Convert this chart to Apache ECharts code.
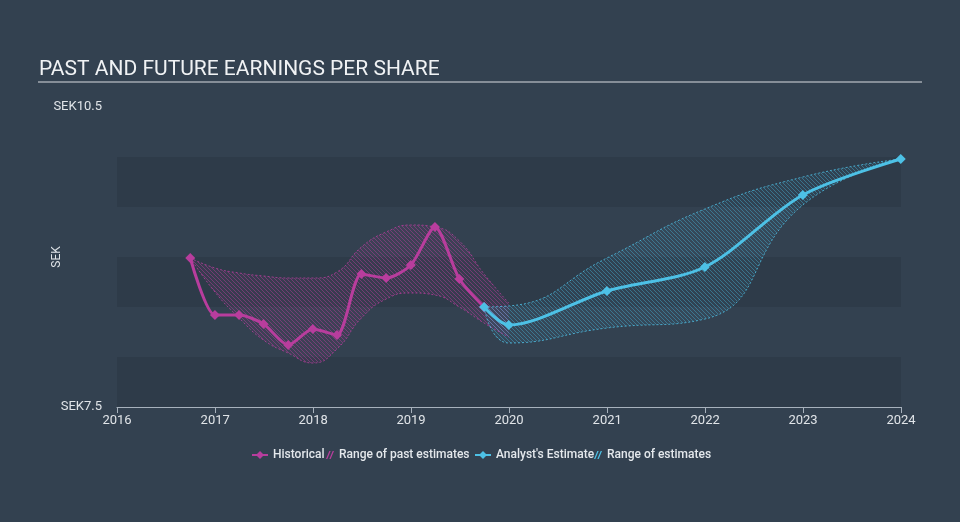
<!DOCTYPE html>
<html><head><meta charset="utf-8">
<script src="https://cdn.jsdelivr.net/npm/echarts@6/dist/echarts.min.js"></script>
<style>html,body{margin:0;padding:0;background:#334150;}#c{width:960px;height:522px;}</style>
</head><body><div id="c"></div>
<script>
// ---- data ----
const histDates = ['2016-09-30','2016-12-31','2017-03-31','2017-06-30','2017-09-30','2017-12-31','2018-03-31','2018-06-30','2018-09-30','2018-12-31','2019-03-31','2019-06-30','2019-09-30'];
const histEPS   = [8.99, 8.42, 8.42, 8.33, 8.12, 8.28, 8.22, 8.83, 8.79, 8.92, 9.30, 8.78, 8.50];
const pastRangeDates = ['2016-09-30','2016-12-31','2017-03-31','2017-06-30','2017-09-30','2017-12-31','2018-03-31','2018-06-30','2018-09-30','2018-12-31','2019-03-31','2019-06-30','2019-09-30','2019-12-31'];
const pastLow  = [8.99, 8.65, 8.39, 8.17, 8.04, 7.94, 8.08, 8.39, 8.58, 8.64, 8.62, 8.50, 8.34, 8.20];
const pastHigh = [8.99, 8.89, 8.84, 8.81, 8.79, 8.79, 8.85, 9.10, 9.25, 9.32, 9.30, 9.16, 8.83, 8.54];
const estDates = ['2019-09-30','2019-12-31','2020-12-31','2021-12-31','2022-12-31','2023-12-31'];
const estEPS   = [8.50, 8.32, 8.66, 8.90, 9.62, 9.98];
const estLow   = [8.50, 8.14, 8.29, 8.38, 9.52, 9.98];
const estHigh  = [8.50, 8.51, 8.99, 9.48, 9.80, 9.98];
const yTickLabels = ['SEK7.5', 'SEK10.5'];
const title = 'PAST AND FUTURE EARNINGS PER SHARE';

// ---- styles ----
const PINK = '#b83d9d', BLUE = '#4dc1e6';
function hatch(rgb, aLine, aFill) {
  const c = document.createElement('canvas'); c.width = 4; c.height = 4;
  const ctx = c.getContext('2d'); const img = ctx.createImageData(4, 4);
  for (let y = 0; y < 4; y++) for (let x = 0; x < 4; x++) {
    const i = (y * 4 + x) * 4, on = ((x - y + 4) % 4) === 0;
    img.data[i] = rgb[0]; img.data[i + 1] = rgb[1]; img.data[i + 2] = rgb[2];
    img.data[i + 3] = Math.round(255 * (on ? aLine : aFill));
  }
  ctx.putImageData(img, 0, 0); return c;
}
const pinkHatch = hatch([184, 61, 157], 0.5, 0.08);
const blueHatch = hatch([77, 193, 230], 0.42, 0.06);
const hatchIcon = 'path://M0,12 L2,12 L7,0 L5,0 Z M5,12 L7,12 L12,0 L10,0 Z';

const pair = (ds, vs) => ds.map((d, i) => [d, vs[i]]);
const diff = (hi, lo) => hi.map((v, i) => +(v - lo[i]).toFixed(3));

const chart = echarts.init(document.getElementById('c'), null, {renderer: 'canvas'});
const legendText = {color: '#e4e8ec', fontSize: 12, fontWeight: 500, fontFamily: 'Roboto'};
function legend(name, left, w, icon, color) {
  const item = {name: name};
  if (icon) { item.icon = icon; item.itemStyle = {color: color, borderWidth: 0}; }
  return {data: [item], left: left, top: 449, itemWidth: w, itemHeight: 10, itemGap: 0,
          textStyle: legendText, selectedMode: false, padding: 0};
}
const bandLine = (c) => ({color: c, width: 1, type: [2, 2], opacity: 0.8});

chart.setOption({
  backgroundColor: '#334150',
  textStyle: {fontFamily: 'Roboto'},
  title: {text: title, left: 39, top: 59, padding: 0,
          textStyle: {color: '#f0f2f4', fontSize: 21, fontWeight: 'normal', fontFamily: 'Roboto'}},
  graphic: [{type: 'line', shape: {x1: 38, y1: 82, x2: 922, y2: 82},
             style: {stroke: '#a3a9b0', lineWidth: 1.5}, silent: true}],
  legend: [
    legend('Historical', 251, 16),
    legend('Range of past estimates', 326, 8, hatchIcon, PINK),
    legend("Analyst's Estimate", 474, 16),
    legend('Range of estimates', 594, 8, hatchIcon, BLUE)
  ],
  grid: {left: 117, right: 59, top: 107, bottom: 115},
  xAxis: {
    type: 'time', min: +new Date(2016, 0, 1), max: +new Date(2024, 0, 1), splitNumber: 8,
    minInterval: 365 * 86400000,
    axisLine: {show: true, lineStyle: {color: '#a7b1bc', width: 1}},
    axisTick: {show: true, length: 6, lineStyle: {color: '#a7b1bc'}},
    axisLabel: {color: '#e0e4e8', fontSize: 13, margin: 7, showMinLabel: true, showMaxLabel: true,
                formatter: v => String(new Date(v).getFullYear())},
    splitLine: {show: false}
  },
  yAxis: {
    type: 'value', min: 7.5, max: 10.5, interval: 0.5,
    name: 'SEK', nameLocation: 'middle', nameGap: 54, nameMoveOverlap: false,
    nameTextStyle: {color: '#e0e4e8', fontSize: 12},
    axisLine: {show: false}, axisTick: {show: false},
    axisLabel: {color: '#e0e4e8', fontSize: 13, margin: 15,
                formatter: v => (Math.abs(v - 7.5) < 1e-6 ? yTickLabels[0] : Math.abs(v - 10.5) < 1e-6 ? yTickLabels[1] : '')},
    splitLine: {show: false},
    splitArea: {show: true, areaStyle: {color: ['#2e3b49', 'rgba(0,0,0,0)']}}
  },
  series: [
    {name: 'pastLow', type: 'line', stack: 'past', data: pair(pastRangeDates, pastLow), symbol: 'none',
     smooth: 0.5, lineStyle: bandLine(PINK), silent: true, z: 1},
    {name: 'Range of past estimates', type: 'line', stack: 'past', data: pair(pastRangeDates, diff(pastHigh, pastLow)),
     symbol: 'none', smooth: 0.5, lineStyle: bandLine(PINK), itemStyle: {color: PINK},
     areaStyle: {color: {image: pinkHatch, repeat: 'repeat'}, opacity: 1}, silent: true, z: 1},
    {name: 'estLow', type: 'line', stack: 'est', data: pair(estDates, estLow), symbol: 'none',
     smooth: 0.5, lineStyle: bandLine(BLUE), silent: true, z: 1},
    {name: 'Range of estimates', type: 'line', stack: 'est', data: pair(estDates, diff(estHigh, estLow)),
     symbol: 'none', smooth: 0.5, lineStyle: bandLine(BLUE), itemStyle: {color: BLUE},
     areaStyle: {color: {image: blueHatch, repeat: 'repeat'}, opacity: 1}, silent: true, z: 1},
    {name: 'Historical', type: 'line', data: pair(histDates, histEPS), symbol: 'diamond', symbolSize: 10,
     smooth: 0.25, lineStyle: {color: PINK, width: 3}, itemStyle: {color: PINK}, z: 3},
    {name: "Analyst's Estimate", type: 'line', data: pair(estDates, estEPS), symbol: 'diamond', symbolSize: 10,
     smooth: 0.3, lineStyle: {color: BLUE, width: 3}, itemStyle: {color: BLUE}, z: 4}
  ]
});
</script></body></html>
